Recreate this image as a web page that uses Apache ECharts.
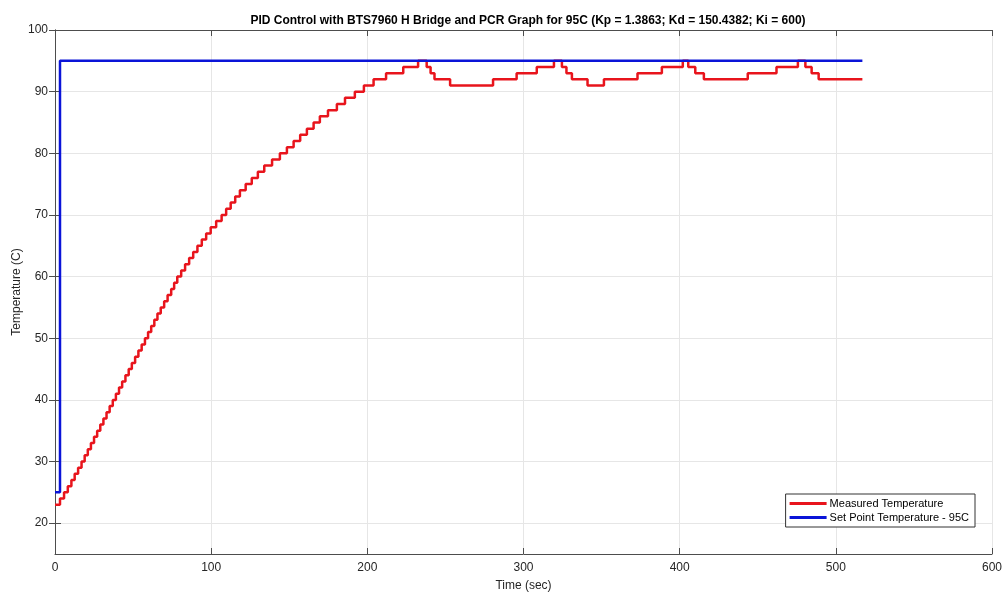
<!DOCTYPE html>
<html>
<head>
<meta charset="utf-8">
<script src="https://cdn.jsdelivr.net/npm/echarts@6/dist/echarts.min.js"></script>
<style>html,body{margin:0;padding:0;background:#fff}#c{width:1005px;height:594px}</style>
</head>
<body>
<div id="c"></div>
<script>
// Measured temperature: each value holds from its time until the next time
var measuredTimes = [0, 3.2, 5.8, 8.2, 10.5, 12.6, 14.8, 17.0, 19.0, 21.0, 23.0, 25.0, 27.0, 29.0, 31.0, 33.0, 35.0,
  37.0, 39.0, 41.0, 43.0, 45.1, 47.2, 49.2, 51.3, 53.4, 55.5, 57.6, 59.6, 61.6, 63.6, 65.6, 67.7, 69.9, 72.1,
  74.4, 76.3, 78.3, 80.8, 83.3, 85.9, 88.5, 91.2, 94.0, 96.8, 99.7, 103.2, 106.7, 109.6, 112.5, 115.4, 118.4,
  122.1, 126.0, 129.9, 134.0, 139.0, 144.0, 148.5, 152.8, 157.0, 161.3, 165.6, 169.6, 174.8, 180.5, 185.7,
  192.0, 197.8, 204.0, 212.0, 223.0, 232.5,
  238.0, 240.5, 243.0, 253.0, 280.5, 295.6, 308.5, 319.5,
  324.6, 327.5, 331.0, 341.0, 351.5, 373.0, 388.6, 402.0,
  405.5, 410.0, 415.5, 443.6, 462.0, 475.7,
  480.5, 484.5, 489.0, 517.0];
var measuredValues = [23, 24, 25, 26, 27, 28, 29, 30, 31, 32, 33, 34, 35, 36, 37, 38, 39,
  40, 41, 42, 43, 44, 45, 46, 47, 48, 49, 50, 51, 52, 53, 54, 55, 56, 57,
  58, 59, 60, 61, 62, 63, 64, 65, 66, 67, 68, 69, 70, 71, 72, 73, 74,
  75, 76, 77, 78, 79, 80, 81, 82, 83, 84, 85, 86, 87, 88, 89,
  90, 91, 92, 93, 94, 95,
  94, 93, 92, 91, 92, 93, 94, 95,
  94, 93, 92, 91, 92, 93, 94, 95,
  94, 93, 92, 93, 94, 95,
  94, 93, 92, 92];
var setpointTimes = [0, 3.2, 517];
var setpointValues = [25, 95, 95];
var xTicks = [0, 100, 200, 300, 400, 500, 600];
var yTicks = [20, 30, 40, 50, 60, 70, 80, 90, 100];

function pairs(ts, vs) { return ts.map(function (t, i) { return [t, vs[i]]; }); }

var chart = echarts.init(document.getElementById('c'));
var font = 'Liberation Sans, Arial, sans-serif';
var axisCol = '#4d4d4d';
chart.setOption({
  animation: false,
  backgroundColor: '#ffffff',
  title: {
    text: 'PID Control with BTS7960 H Bridge and PCR Graph for 95C (Kp = 1.3863; Kd = 150.4382; Ki = 600)',
    left: 523, top: 10, textAlign: 'center',
    textStyle: { fontFamily: font, fontSize: 12, fontWeight: 'bold', color: '#000' }
  },
  grid: { left: 55, right: 13, top: 30, bottom: 40, containLabel: false, outerBoundsMode: 'none' },
  legend: {
    orient: 'vertical', right: 30, top: 494,
    data: ['Measured Temperature', 'Set Point Temperature - 95C'],
    icon: 'rect', itemWidth: 37, itemHeight: 3, itemGap: 3,
    padding: [4, 6, 4, 4],
    backgroundColor: '#fff', borderColor: '#333', borderWidth: 1, borderRadius: 0,
    textStyle: { fontFamily: font, fontSize: 11, color: '#000', padding: [0, 0, 0, -2] }
  },
  xAxis: [{
    type: 'value', min: 0, max: 600, interval: 100,
    name: 'Time (sec)', nameLocation: 'middle', nameGap: 26,
    nameTextStyle: { fontFamily: font, fontSize: 12, color: '#262626' },
    axisLine: { show: true, lineStyle: { color: axisCol, width: 1 } },
    axisTick: { show: true, inside: true, length: 6, lineStyle: { color: axisCol } },
    axisLabel: { fontFamily: font, fontSize: 12, color: '#262626', margin: 8,
      customValues: xTicks },
    splitLine: { show: true, lineStyle: { color: '#e6e6e6', width: 1 } }
  }, {
    type: 'value', min: 0, max: 600, interval: 100, position: 'top',
    axisLine: { show: true, lineStyle: { color: axisCol, width: 1 } },
    axisTick: { show: true, inside: true, length: 6, lineStyle: { color: axisCol } },
    axisLabel: { show: false }, splitLine: { show: false }
  }],
  yAxis: [{
    type: 'value', min: 15, max: 100,
    name: 'Temperature (C)', nameLocation: 'middle', nameGap: 32, nameMoveOverlap: false,
    nameTextStyle: { fontFamily: font, fontSize: 12, color: '#262626' },
    axisLine: { show: true, lineStyle: { color: axisCol, width: 1 } },
    axisTick: { show: true, inside: true, length: 6, lineStyle: { color: axisCol }, customValues: yTicks },
    axisLabel: { fontFamily: font, fontSize: 12, color: '#262626', margin: 7, customValues: yTicks },
    splitLine: { show: true, lineStyle: { color: '#e6e6e6', width: 1 } }
  }, {
    type: 'value', min: 15, max: 100, position: 'right',
    axisLine: { show: true, lineStyle: { color: axisCol, width: 1 } },
    axisTick: { show: true, inside: true, length: 6, lineStyle: { color: axisCol }, customValues: yTicks },
    axisLabel: { show: false, customValues: yTicks }, splitLine: { show: false }
  }],
  series: [{
    name: 'Measured Temperature', type: 'line', step: 'end',
    data: pairs(measuredTimes, measuredValues),
    showSymbol: false, symbol: 'none',
    itemStyle: { color: '#e8141c' },
    lineStyle: { color: '#e8141c', width: 2.5 },
    z: 2
  }, {
    name: 'Set Point Temperature - 95C', type: 'line', step: 'end',
    data: pairs(setpointTimes, setpointValues),
    showSymbol: false, symbol: 'none',
    itemStyle: { color: '#0a14d8' },
    lineStyle: { color: '#0a14d8', width: 2.5 },
    z: 3
  }]
});
</script>
</body>
</html>
